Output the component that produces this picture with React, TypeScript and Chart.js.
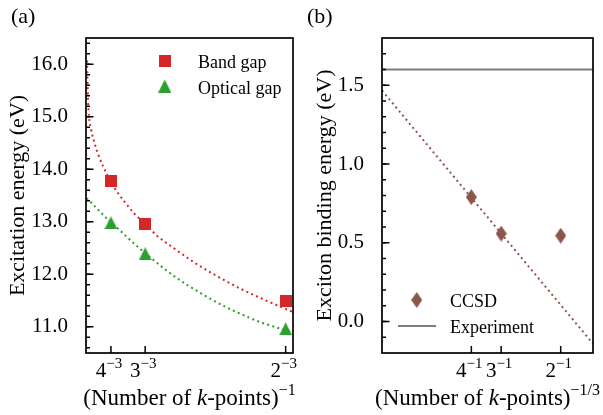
import React, { useEffect, useRef } from "react";
import { Chart, registerables } from "chart.js";

Chart.register(...registerables);

// ---------- Panel (a): excitation energies vs (number of k-points)^-1 ----------
const kptBasesA = ["4", "3", "2"];
const kptExpA = "\u22123";
const invKptA = [0.015625, 0.037037, 0.125];
const yTicksA = [11, 12, 13, 14, 15, 16];
const bandGap = [13.77, 12.96, 11.5];
const opticalGap = [12.98, 12.39, 10.96];

const bandFitX = [0.0007, 0.0009, 0.0013, 0.0019, 0.0031, 0.0052, 0.0078, 0.0109, 0.0156, 0.019, 0.0242, 0.0295, 0.037, 0.0446, 0.0544, 0.068, 0.0823, 0.097, 0.112, 0.1273, 0.1296];
const bandFitY = [16.07, 15.7, 15.3, 15.0, 14.77, 14.51, 14.27, 14.04, 13.76, 13.59, 13.38, 13.18, 12.96, 12.73, 12.51, 12.22, 11.96, 11.72, 11.51, 11.31, 11.28];

const optFitX = [0.0004, 0.0031, 0.0062, 0.0092, 0.0121, 0.0156, 0.0211, 0.0242, 0.034, 0.037, 0.0431, 0.05, 0.0568, 0.0637, 0.0707, 0.078, 0.0853, 0.0927, 0.1002, 0.108, 0.1159, 0.1197, 0.125, 0.1296];
const optFitY = [13.45, 13.37, 13.27, 13.18, 13.09, 12.99, 12.84, 12.75, 12.48, 12.4, 12.25, 12.08, 11.93, 11.79, 11.66, 11.53, 11.41, 11.3, 11.2, 11.1, 11.02, 10.98, 10.94, 10.9];

const legendA = ["Band gap", "Optical gap"];

// ---------- Panel (b): exciton binding energy vs (number of k-points)^-1/3 ----------
const kptBasesB = ["4", "3", "2"];
const kptExpB = "\u22121";
const invCbrtKptB = [0.25, 0.333333, 0.5];
const yTicksB = [0, 0.5, 1.0, 1.5];
const ccsdBinding = [0.79, 0.558, 0.545];
const ccsdFitX = [0, 0.5904];
const ccsdFitY = [1.467, -0.141];
const experimentBinding = 1.6;
const legendB = ["CCSD", "Experiment"];

// ---------- styling ----------
const SERIF = '"Liberation Serif", "Times New Roman", serif';
const RED = "#d62728";
const GREEN = "#2ca02c";
const BROWN = "#8c564b";
const GRAY = "#7f7f7f";

type Part = { t: string; size: number; italic?: boolean; rise?: number };

function fontOf(p: Part) {
  return `${p.italic ? "italic " : ""}${p.size}px ${SERIF}`;
}

function drawRich(ctx: CanvasRenderingContext2D, parts: Part[], x: number, y: number, align: "center" | "left") {
  let total = 0;
  const widths = parts.map((p) => {
    ctx.font = fontOf(p);
    const w = ctx.measureText(p.t).width;
    total += w;
    return w;
  });
  let cx = align === "center" ? x - total / 2 : x;
  ctx.textAlign = "left";
  ctx.textBaseline = "alphabetic";
  ctx.fillStyle = "#000";
  parts.forEach((p, i) => {
    ctx.font = fontOf(p);
    ctx.fillText(p.t, cx, y - (p.rise || 0));
    cx += widths[i];
  });
}

function makeMarker(shape: "square" | "triangle" | "diamond", color: string, w: number, h: number) {
  const c = document.createElement("canvas");
  c.width = w;
  c.height = h;
  const g = c.getContext("2d")!;
  g.fillStyle = color;
  g.beginPath();
  if (shape === "square") {
    g.rect(0, 0, w, h);
  } else if (shape === "triangle") {
    g.moveTo(w / 2, 0);
    g.lineTo(w, h);
    g.lineTo(0, h);
  } else {
    g.moveTo(w / 2, 0);
    g.lineTo(w, h / 2);
    g.lineTo(w / 2, h);
    g.lineTo(0, h / 2);
  }
  g.closePath();
  g.fill();
  return c;
}

type LegendItem = { text: string; img?: HTMLCanvasElement; lineColor?: string; mx: number; my: number; tx: number; ty: number };

type DecorCfg = {
  panel: string;
  panelX: number;
  panelY: number;
  yMinorStep: number;
  yMinorFrom: number;
  yMinorTo: number;
  xTicks: number[];
  xBases: string[];
  xExp: string;
  titleParts: Part[];
  legend: LegendItem[];
};

function decorPlugin(cfg: DecorCfg) {
  return {
    id: "decor" + cfg.panel,
    afterDraw(chart: any) {
      const ctx: CanvasRenderingContext2D = chart.ctx;
      const { left, right, top, bottom } = chart.chartArea;
      const xs = chart.scales.x;
      const ys = chart.scales.y;
      ctx.save();
      ctx.strokeStyle = "#000";
      ctx.lineWidth = 1.5;
      // minor y ticks (inward)
      const nMinor = Math.round((cfg.yMinorTo - cfg.yMinorFrom) / cfg.yMinorStep);
      for (let i = 0; i <= nMinor; i++) {
        const v = cfg.yMinorFrom + i * cfg.yMinorStep;
        const py = ys.getPixelForValue(v);
        ctx.beginPath();
        ctx.moveTo(left, py);
        ctx.lineTo(left + 4, py);
        ctx.stroke();
      }
      // major y ticks
      for (const t of ys.ticks) {
        const py = ys.getPixelForValue(t.value);
        ctx.beginPath();
        ctx.moveTo(left, py);
        ctx.lineTo(left + 7.5, py);
        ctx.stroke();
      }
      // x ticks and labels
      cfg.xTicks.forEach((v, i) => {
        const px = xs.getPixelForValue(v);
        ctx.beginPath();
        ctx.moveTo(px, bottom);
        ctx.lineTo(px, bottom - 7);
        ctx.stroke();
        drawRich(
          ctx,
          [
            { t: cfg.xBases[i], size: 21 },
            { t: cfg.xExp, size: 15, rise: 9 },
          ],
          px - 2,
          377,
          "center"
        );
      });
      // frame
      ctx.lineWidth = 1.7;
      ctx.strokeRect(left, top, right - left, bottom - top);
      // x title
      drawRich(ctx, cfg.titleParts, (left + right) / 2, 405, "center");
      // panel label
      drawRich(ctx, [{ t: cfg.panel, size: 22 }], cfg.panelX, cfg.panelY, "left");
      // legend
      for (const it of cfg.legend) {
        if (it.img) {
          ctx.drawImage(it.img, it.mx - it.img.width / 2, it.my - it.img.height / 2);
        } else if (it.lineColor) {
          ctx.strokeStyle = it.lineColor;
          ctx.lineWidth = 2;
          ctx.beginPath();
          ctx.moveTo(it.mx - 19, it.my);
          ctx.lineTo(it.mx + 19, it.my);
          ctx.stroke();
        }
        drawRich(ctx, [{ t: it.text, size: 18 }], it.tx, it.ty, "left");
      }
      ctx.restore();
    },
  };
}

function xy(xsArr: number[], ysArr: number[]) {
  return xsArr.map((x, i) => ({ x, y: ysArr[i] }));
}

export default function App() {
  const refA = useRef<HTMLCanvasElement>(null);
  const refB = useRef<HTMLCanvasElement>(null);

  useEffect(() => {
    Chart.defaults.font.family = SERIF;
    Chart.defaults.color = "#000";

    const sq = makeMarker("square", RED, 12, 12);
    const tri = makeMarker("triangle", GREEN, 13, 13);
    const dia = makeMarker("diamond", BROWN, 11, 16);

    const lineBase = {
      showLine: true,
      pointRadius: 0,
      borderWidth: 2,
      borderDash: [2, 3.3],
      fill: false,
      cubicInterpolationMode: "monotone" as const,
    };

    const chartA = new Chart(refA.current!, {
      type: "scatter",
      data: {
        datasets: [
          {
            label: legendA[0],
            data: xy(invKptA, bandGap),
            pointStyle: sq,
            pointRadius: 6,
            order: 0,
          },
          {
            label: legendA[1],
            data: xy(invKptA, opticalGap),
            pointStyle: tri,
            pointRadius: 6,
            order: 0,
          },
          { ...lineBase, label: "band fit", data: xy(bandFitX, bandFitY), borderColor: RED, order: 1 },
          { ...lineBase, label: "optical fit", data: xy(optFitX, optFitY), borderColor: GREEN, order: 1 },
        ] as any,
      },
      options: {
        responsive: false,
        animation: false,
        events: [],
        layout: { padding: { left: 0, top: 38, right: 2, bottom: 0 } },
        plugins: { legend: { display: false }, tooltip: { enabled: false } },
        scales: {
          x: {
            type: "linear",
            min: 0,
            max: 0.1296,
            ticks: { display: false },
            grid: { display: false },
            border: { display: false },
            afterFit: (s: any) => {
              s.height = 62;
            },
          },
          y: {
            type: "linear",
            min: 10.5,
            max: 16.5,
            afterBuildTicks: (s: any) => {
              s.ticks = yTicksA.map((v) => ({ value: v }));
            },
            ticks: {
              padding: 10,
              font: { family: SERIF, size: 21 },
              color: "#000",
              callback: (v: any) => Number(v).toFixed(1),
            },
            grid: { display: false },
            border: { display: false },
            title: {
              display: true,
              text: "Excitation energy (eV)",
              font: { family: SERIF, size: 22 },
              color: "#000",
              padding: { top: 5, bottom: 0 },
            },
            afterFit: (s: any) => {
              s.width = 86;
            },
          },
        },
      } as any,
      plugins: [
        decorPlugin({
          panel: "(a)",
          panelX: 11,
          panelY: 22.5,
          yMinorStep: 0.2,
          yMinorFrom: 10.6,
          yMinorTo: 16.4,
          xTicks: invKptA,
          xBases: kptBasesA,
          xExp: kptExpA,
          titleParts: [
            { t: "(Number of ", size: 23 },
            { t: "k", size: 23, italic: true },
            { t: "-points)", size: 23 },
            { t: "\u22121", size: 16, rise: 10 },
          ],
          legend: [
            { text: legendA[0], img: sq, mx: 164.7, my: 60.5, tx: 198, ty: 67.5 },
            { text: legendA[1], img: tri, mx: 164.7, my: 86, tx: 198, ty: 93.5 },
          ],
        }) as any,
      ],
    });

    const chartB = new Chart(refB.current!, {
      type: "scatter",
      data: {
        datasets: [
          {
            label: legendB[0],
            data: xy(invCbrtKptB, ccsdBinding),
            pointStyle: dia,
            pointRadius: 6,
            order: 0,
          },
          {
            ...lineBase,
            label: "CCSD fit",
            data: xy(ccsdFitX, ccsdFitY),
            borderColor: BROWN,
            cubicInterpolationMode: "default",
            order: 1,
          },
          {
            label: legendB[1],
            showLine: true,
            pointRadius: 0,
            borderWidth: 2,
            borderColor: GRAY,
            data: [
              { x: 0, y: experimentBinding },
              { x: 0.5904, y: experimentBinding },
            ],
            order: 1,
          },
        ] as any,
      },
      options: {
        responsive: false,
        animation: false,
        events: [],
        layout: { padding: { left: 0, top: 38, right: 10, bottom: 0 } },
        plugins: { legend: { display: false }, tooltip: { enabled: false } },
        scales: {
          x: {
            type: "linear",
            min: 0,
            max: 0.5904,
            ticks: { display: false },
            grid: { display: false },
            border: { display: false },
            afterFit: (s: any) => {
              s.height = 62;
            },
          },
          y: {
            type: "linear",
            min: -0.2,
            max: 1.8,
            afterBuildTicks: (s: any) => {
              s.ticks = yTicksB.map((v) => ({ value: v }));
            },
            ticks: {
              padding: 10,
              font: { family: SERIF, size: 21 },
              color: "#000",
              callback: (v: any) => Number(v).toFixed(1),
            },
            grid: { display: false },
            border: { display: false },
            title: {
              display: true,
              text: "Exciton binding energy (eV)",
              font: { family: SERIF, size: 22 },
              color: "#000",
              padding: { top: 12, bottom: 0 },
            },
            afterFit: (s: any) => {
              s.width = 82;
            },
          },
        },
      } as any,
      plugins: [
        decorPlugin({
          panel: "(b)",
          panelX: 7,
          panelY: 23,
          yMinorStep: 0.1,
          yMinorFrom: -0.1,
          yMinorTo: 1.7,
          xTicks: invCbrtKptB,
          xBases: kptBasesB,
          xExp: kptExpB,
          titleParts: [
            { t: "(Number of ", size: 23 },
            { t: "k", size: 23, italic: true },
            { t: "-points)", size: 23 },
            { t: "\u22121/3", size: 16, rise: 10 },
          ],
          legend: [
            { text: legendB[0], img: dia, mx: 116.7, my: 300, tx: 150, ty: 307 },
            { text: legendB[1], lineColor: GRAY, mx: 117, my: 326, tx: 150, ty: 333 },
          ],
        }) as any,
      ],
    });

    return () => {
      chartA.destroy();
      chartB.destroy();
    };
  }, []);

  return (
    <div style={{ position: "absolute", left: 0, top: 0, width: 603, height: 415, background: "#fff" }}>
      <canvas ref={refA} width={300} height={415} style={{ position: "absolute", left: 0, top: 0, width: 300, height: 415 }} />
      <canvas ref={refB} width={303} height={415} style={{ position: "absolute", left: 300, top: 0, width: 303, height: 415 }} />
    </div>
  );
}
